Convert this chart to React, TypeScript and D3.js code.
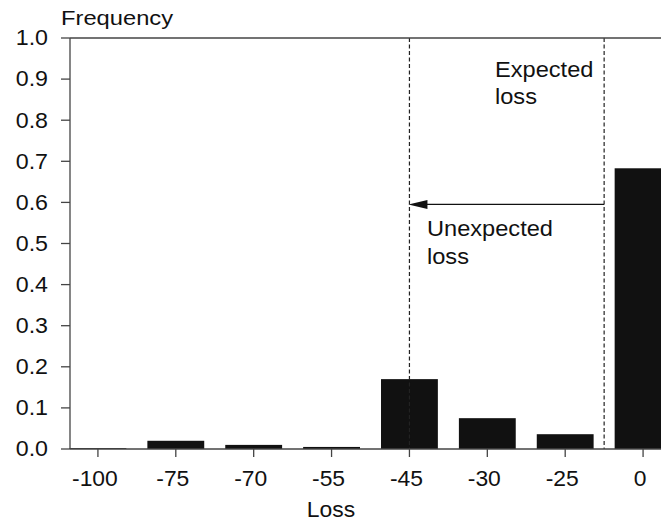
import React from "react";
import * as d3 from "d3";

const categories = ["-100", "-75", "-70", "-55", "-45", "-30", "-25", "0"];
const frequencies = [0.002, 0.02, 0.01, 0.005, 0.17, 0.075, 0.036, 0.683];
const yTicks = [0, 0.1, 0.2, 0.3, 0.4, 0.5, 0.6, 0.7, 0.8, 0.9, 1.0];
const expectedLossIndex = 6.5; // between "-25" and "0"
const unexpectedLossCategory = "-45";
const arrowValue = 0.595;

const W = 661;
const H = 522;
const FONT = "'Liberation Sans', Arial, Helvetica, sans-serif";
const AXIS = "#444";

function T(props: {
  x: number;
  y: number;
  size: number;
  sx?: number;
  anchor?: "start" | "middle" | "end";
  dy?: string;
  children: React.ReactNode;
}) {
  const { x, y, size, sx = 1.05, anchor = "start", dy, children } = props;
  return (
    <text
      transform={`translate(${x},${y}) scale(${sx},1)`}
      dy={dy}
      textAnchor={anchor}
      fontSize={size}
      fill="#111"
    >
      {children}
    </text>
  );
}

export default function App() {
  const x = d3
    .scaleBand<string>()
    .domain(categories)
    .range([69.5, 671.5])
    .paddingInner(0.27)
    .paddingOuter(0);
  const y = d3.scaleLinear().domain([0, 1]).range([449, 38]);
  const center = (c: string) => (x(c) as number) + x.bandwidth() / 2;
  const centerAt = (i: number) => {
    const lo = Math.floor(i);
    const hi = Math.min(categories.length - 1, lo + 1);
    const f = i - lo;
    return center(categories[lo]) * (1 - f) + center(categories[hi]) * f;
  };
  const xLeft = 70;
  const xExp = centerAt(expectedLossIndex);
  const xUnexp = center(unexpectedLossCategory);
  const yArrow = y(arrowValue);

  return (
    <svg
      width={W}
      height={H}
      style={{ position: "absolute", left: 0, top: 0, background: "#fff" }}
      fontFamily={FONT}
    >
      {/* bars */}
      {categories.map((c, i) => (
        <rect
          key={c}
          x={x(c)}
          y={y(frequencies[i])}
          width={x.bandwidth()}
          height={y(0) - y(frequencies[i])}
          fill="#111"
        />
      ))}
      {/* dashed lines */}
      <line x1={xUnexp} x2={xUnexp} y1={y(1)} y2={y(0)} stroke="#222" strokeWidth={1.2} strokeDasharray="4,2.5" />
      <line x1={xExp} x2={xExp} y1={y(1)} y2={y(0)} stroke="#222" strokeWidth={1.2} strokeDasharray="4,2.5" />
      {/* arrow */}
      <line x1={xExp} x2={xUnexp + 14} y1={yArrow} y2={yArrow} stroke="#111" strokeWidth={1.3} />
      <path
        d={`M${xUnexp - 1},${yArrow} L${xUnexp + 18},${yArrow - 4.5} L${xUnexp + 18},${yArrow + 4.5} Z`}
        fill="#111"
      />
      {/* axes */}
      <line x1={xLeft} x2={xLeft} y1={y(1)} y2={y(0)} stroke={AXIS} strokeWidth={1.3} />
      <line x1={xLeft} x2={W} y1={y(0)} y2={y(0)} stroke={AXIS} strokeWidth={1.3} />
      <line x1={xLeft} x2={W} y1={y(1)} y2={y(1)} stroke={AXIS} strokeWidth={1.3} />
      {yTicks.map((t) => (
        <g key={t}>
          <line x1={61} x2={xLeft} y1={y(t)} y2={y(t)} stroke={AXIS} strokeWidth={1.3} />
          <T x={48} y={y(t)} dy="0.34em" anchor="end" size={21.5} sx={1.08}>
            {t.toFixed(1)}
          </T>
        </g>
      ))}
      {categories.map((c) => (
        <g key={c}>
          <line x1={center(c)} x2={center(c)} y1={y(0)} y2={y(0) + 8} stroke={AXIS} strokeWidth={1.3} />
          <T x={center(c) - 3} y={485.5} anchor="middle" size={22} sx={1.04}>
            {c}
          </T>
        </g>
      ))}
      <T x={61} y={25} size={21} sx={1.13}>Frequency</T>
      <T x={331} y={517} anchor="middle" size={22} sx={1.04}>Loss</T>
      <T x={495} y={77} size={22.5} sx={1.05}>Expected</T>
      <T x={495} y={104} size={22.5} sx={1.05}>loss</T>
      <T x={427} y={236} size={22.5} sx={1.05}>Unexpected</T>
      <T x={427} y={264} size={22.5} sx={1.05}>loss</T>
    </svg>
  );
}
